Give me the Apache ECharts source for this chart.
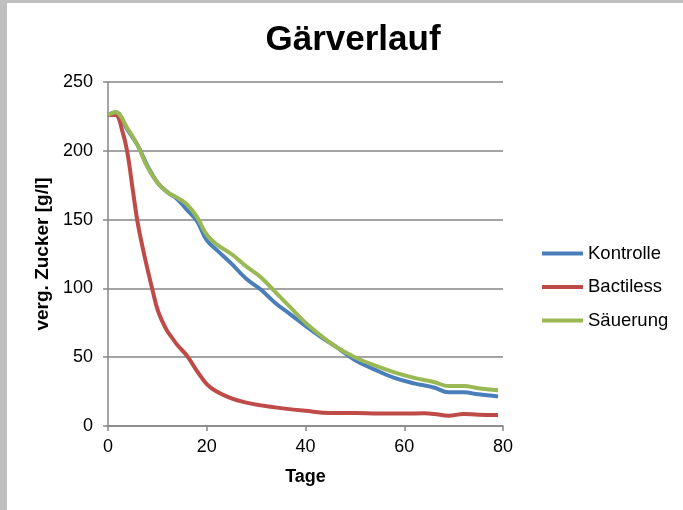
<!DOCTYPE html>
<html>
<head>
<meta charset="utf-8">
<script src="https://cdn.jsdelivr.net/npm/echarts@6/dist/echarts.min.js"></script>
<style>
html,body{margin:0;padding:0;background:#fff;}
#c{width:683px;height:510px;}
</style>
</head>
<body>
<div id="c"></div>
<script>
const titleText = 'Gärverlauf';
const xName = 'Tage';
const yName = 'verg. Zucker [g/l]';
const seriesNames = ['Kontrolle', 'Bactiless', 'Säuerung'];
const xTicks = [0, 20, 40, 60, 80];
const yTicks = [0, 50, 100, 150, 200, 250];

const daysKS = [0, 1.5, 4, 6, 8, 10, 12, 14, 16, 18, 20, 22, 25, 28, 31, 34, 37, 40, 43, 46, 50, 54, 58, 62, 66, 69, 72, 75, 79];
const kontrolle = [226, 228, 215, 204, 189, 177, 170, 165, 157, 149, 135, 128, 118, 107, 99, 89, 81, 72.7, 65, 58, 48, 41, 35, 31, 28, 24.5, 24.5, 23, 21.5];
const saeuerung = [226, 228, 216, 204, 188, 177, 170, 166, 161, 152, 139, 132, 125, 116, 108, 97, 86, 75, 66, 58, 50, 44, 39, 35, 32, 29, 29, 27.5, 26];

const daysB = [0, 1.5, 3, 4, 5, 6, 7, 8, 9, 10, 11, 12, 13, 14, 16, 18, 20, 22, 25, 28, 31, 35, 40, 45, 50, 55, 60, 64, 66, 69, 72, 75, 79];
const bactiless = [226, 226, 213, 197, 172, 148, 130, 114, 99, 85, 76, 69, 64, 59, 51, 40, 30.5, 25, 20, 17, 15, 13, 11, 9.5, 9.5, 9, 9, 9.2, 8.8, 7.5, 8.7, 8.2, 8];

const colors = ['#4a7ebb', '#be4b48', '#98b954'];
const FONT = '"Liberation Sans", Arial, sans-serif';

function pairs(xs, ys) { return xs.map((x, i) => [x, ys[i]]); }

const chart = echarts.init(document.getElementById('c'), null, {renderer: 'canvas'});
chart.setOption({
  backgroundColor: '#ffffff',
  animation: false,
  textStyle: {fontFamily: FONT},
  title: {
    text: titleText,
    left: 348, top: 18, textAlign: 'center',
    textStyle: {fontFamily: FONT, fontSize: 35, fontWeight: 'bold', color: '#000'}
  },
  graphic: [
    {type: 'rect', left: 0, top: 0, shape: {width: 7, height: 510}, style: {fill: '#bfbfbf'}, silent: true},
    {type: 'rect', left: 0, top: 0, shape: {width: 683, height: 3}, style: {fill: '#bfbfbf'}, silent: true}
  ],
  legend: {
    orient: 'vertical',
    left: 542, top: 244, padding: 0,
    itemWidth: 41, itemHeight: 4, itemGap: 14.5,
    icon: 'rect',
    textStyle: {fontFamily: FONT, fontSize: 18.5, color: '#000'},
    data: seriesNames
  },
  grid: {left: 108, top: 82, width: 395, height: 344, containLabel: false},
  xAxis: {
    type: 'value', min: 0, max: 80, interval: 20,
    name: xName, nameLocation: 'middle', nameGap: 42,
    nameTextStyle: {fontFamily: FONT, fontSize: 18, fontWeight: 'bold', color: '#000'},
    axisLine: {lineStyle: {color: '#868686', width: 1.5}},
    axisTick: {show: true, length: 5, lineStyle: {color: '#868686', width: 1.5}},
    axisLabel: {fontFamily: FONT, fontSize: 18, color: '#000', margin: 12,
      formatter: v => xTicks.includes(v) ? String(v) : ''},
    splitLine: {show: false}
  },
  yAxis: {
    type: 'value', min: 0, max: 250, interval: 50,
    name: yName, nameLocation: 'middle', nameGap: 51, nameRotate: 90,
    nameTextStyle: {fontFamily: FONT, fontSize: 19, fontWeight: 'bold', color: '#000'},
    axisLine: {show: true, lineStyle: {color: '#868686', width: 1.5}},
    axisTick: {show: true, length: 5, lineStyle: {color: '#868686', width: 1.5}},
    axisLabel: {fontFamily: FONT, fontSize: 18, color: '#000', margin: 15,
      formatter: v => yTicks.includes(v) ? String(v) : ''},
    splitLine: {show: true, lineStyle: {color: '#868686', width: 1.5}}
  },
  series: [
    {name: seriesNames[0], type: 'line', data: pairs(daysKS, kontrolle), showSymbol: false, symbol: 'none', smooth: 0.4,
      lineStyle: {color: colors[0], width: 4}, itemStyle: {color: colors[0]}, z: 2},
    {name: seriesNames[1], type: 'line', data: pairs(daysB, bactiless), showSymbol: false, symbol: 'none', smooth: 0.4,
      lineStyle: {color: colors[1], width: 4}, itemStyle: {color: colors[1]}, z: 3},
    {name: seriesNames[2], type: 'line', data: pairs(daysKS, saeuerung), showSymbol: false, symbol: 'none', smooth: 0.4,
      lineStyle: {color: colors[2], width: 4}, itemStyle: {color: colors[2]}, z: 4}
  ]
});
</script>
</body>
</html>
